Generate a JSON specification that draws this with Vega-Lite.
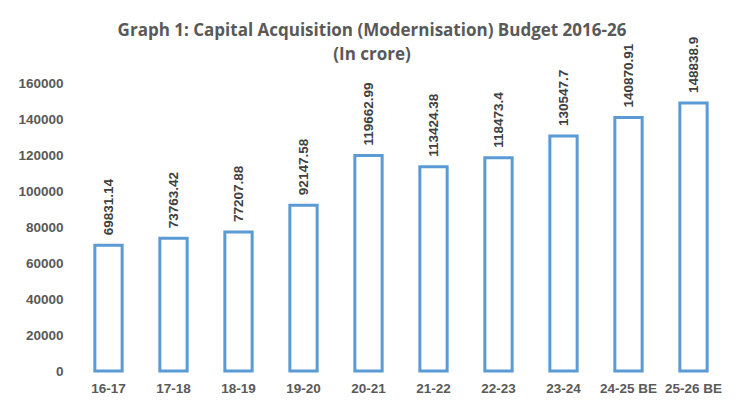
{
  "$schema": "https://vega.github.io/schema/vega-lite/v6.json",
  "width": 650,
  "height": 288,
  "autosize": {"type": "none"},
  "padding": {"left": 76, "top": 83, "right": 24, "bottom": 46},
  "background": "white",
  "title": {
    "text": ["Graph 1: Capital Acquisition (Modernisation) Budget 2016-26", "(In crore)"],
    "font": "Open Sans",
    "fontSize": 17,
    "fontWeight": "bold",
    "color": "#595959",
    "anchor": "middle",
    "frame": "group",
    "dx": -29,
    "dy": 6,
    "lineHeight": 24,
    "baseline": "top",
    "offset": -21
  },
  "data": {
    "values": [
      {"year": "16-17", "value": 69831.14, "label": "69831.14"},
      {"year": "17-18", "value": 73763.42, "label": "73763.42"},
      {"year": "18-19", "value": 77207.88, "label": "77207.88"},
      {"year": "19-20", "value": 92147.58, "label": "92147.58"},
      {"year": "20-21", "value": 119662.99, "label": "119662.99"},
      {"year": "21-22", "value": 113424.38, "label": "113424.38"},
      {"year": "22-23", "value": 118473.4, "label": "118473.4"},
      {"year": "23-24", "value": 130547.7, "label": "130547.7"},
      {"year": "24-25 BE", "value": 140870.91, "label": "140870.91"},
      {"year": "25-26 BE", "value": 148838.9, "label": "148838.9"}
    ]
  },
  "encoding": {
    "x": {
      "field": "year", "type": "ordinal", "sort": null,
      "scale": {"paddingInner": 0.58, "paddingOuter": 0.29},
      "axis": {
        "title": null, "labelAngle": 0, "domain": false, "ticks": false,
        "labelFont": "Liberation Sans", "labelFontSize": 13.5, "labelFontWeight": "bold",
        "labelColor": "#595959", "labelPadding": 10
      }
    },
    "y": {
      "field": "value", "type": "quantitative",
      "scale": {"domain": [0, 160000]},
      "axis": {
        "title": null, "values": [0, 20000, 40000, 60000, 80000, 100000, 120000, 140000, 160000],
        "format": "d", "grid": false, "domain": false, "ticks": false,
        "labelFont": "Liberation Sans", "labelFontSize": 13.5, "labelFontWeight": "bold",
        "labelColor": "#595959", "labelPadding": 13
      }
    }
  },
  "layer": [
    {
      "mark": {"type": "bar", "fill": "white", "stroke": "#5B9BD5", "strokeWidth": 3}
    },
    {
      "mark": {
        "type": "text", "angle": 270, "align": "left", "baseline": "middle",
        "yOffset": -10, "font": "Liberation Sans", "fontSize": 13.5, "fontWeight": "bold",
        "color": "#404040"
      },
      "encoding": {"text": {"field": "label"}}
    }
  ],
  "config": {"view": {"stroke": null}}
}
